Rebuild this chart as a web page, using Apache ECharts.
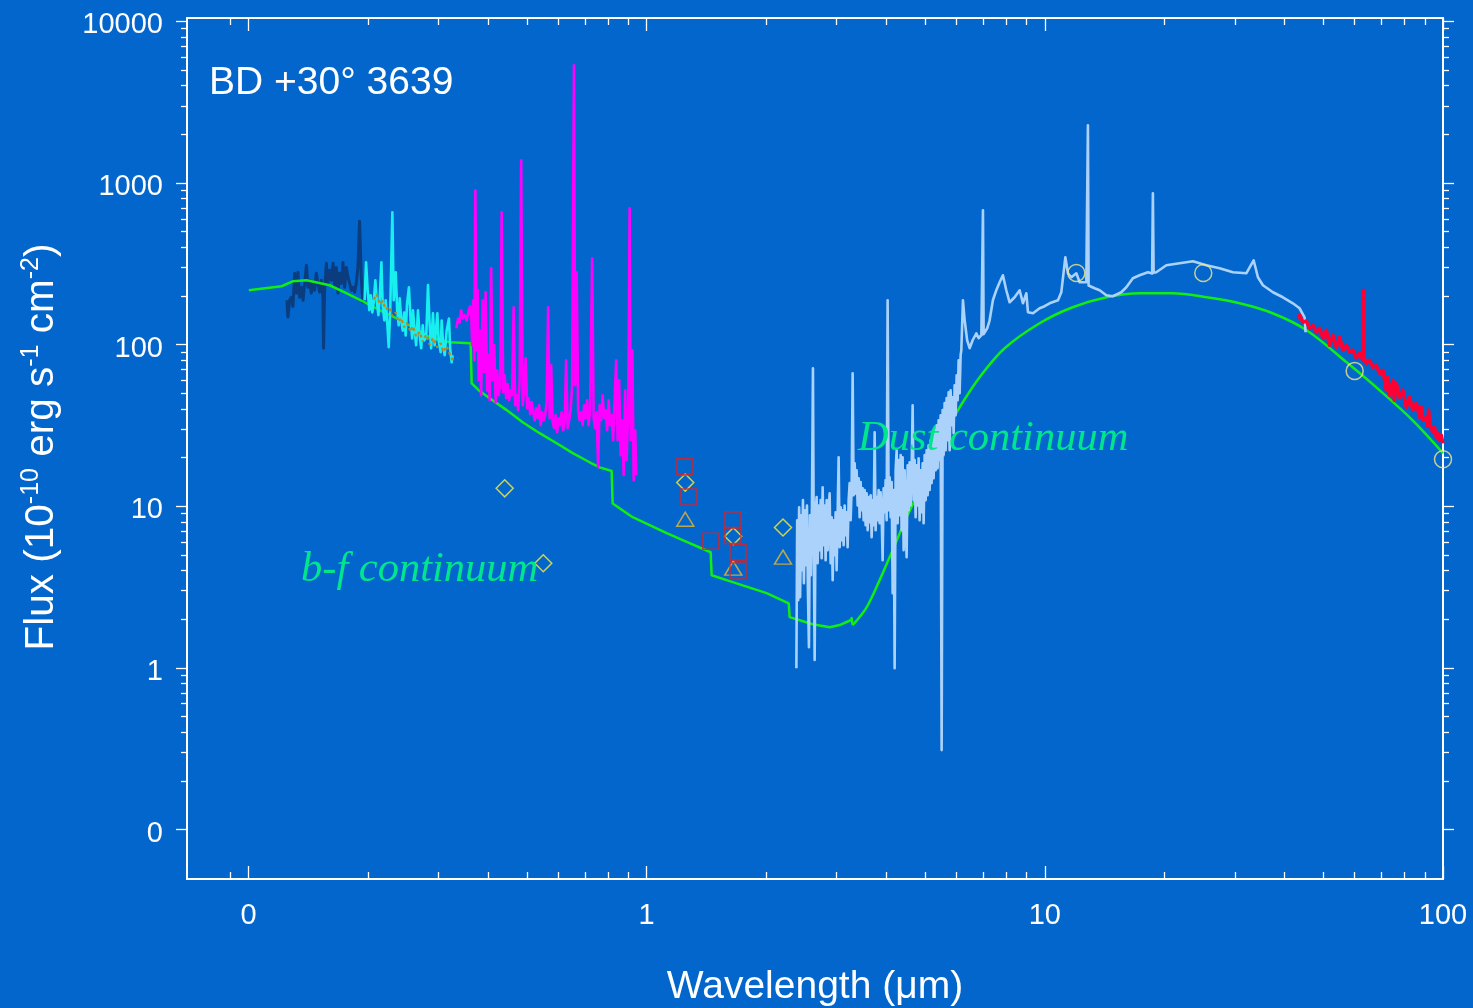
<!DOCTYPE html>
<html>
<head>
<meta charset="utf-8">
<title>BD +30° 3639 spectral energy distribution</title>
<script src="https://cdn.jsdelivr.net/npm/echarts@6.0.0/dist/echarts.min.js"></script>
<style>
html, body { margin: 0; padding: 0; background: #0366cc; }
#chart { width: 1473px; height: 1008px; }
</style>
</head>
<body>
<div id="chart"></div>
<script>
// All pairs are [wavelength (micron), flux (1e-10 erg s^-1 cm^-2)].

// IUE short-wavelength spectrum
const iueShort = [
  [0.1249,188],[0.1256,148],[0.1269,188],[0.1281,196],[0.1293,172],[0.1306,276],[0.1319,208],[0.1331,280],
  [0.1344,196],[0.1358,226],[0.1371,188],[0.1384,239],[0.1398,309],[0.1411,226],[0.1424,250],[0.1438,208],
  [0.1452,243],[0.1466,217],[0.1480,276],[0.1494,239],[0.1509,211],[0.1524,250],[0.1538,196],[0.1544,94.8],
  [0.1553,217],[0.1569,318],[0.1583,239],[0.1600,288],[0.1615,250],[0.1631,318],[0.1647,226],[0.1662,300],
  [0.1678,208],[0.1694,276],[0.1711,239],[0.1727,322],[0.1744,226],[0.1761,300],[0.1778,260],[0.1795,239],
  [0.1812,217],[0.1829,226],[0.1847,211],[0.1865,239],[0.1883,300],[0.1901,579],[0.1920,260],[0.1938,180]
];

// IUE long-wavelength spectrum
const iueLong = [
  [0.1957,188],[0.1974,323],[0.1992,217],[0.2012,163],[0.2027,202],[0.2047,158],[0.2063,183],[0.2083,250],
  [0.2099,188],[0.2120,152],[0.2136,193],[0.2157,323],[0.2173,175],[0.2194,141],[0.2211,188],[0.2233,131.6],
  [0.2250,96.2],[0.2270,163],[0.2298,657],[0.2316,188],[0.2343,280],[0.2363,163],[0.2384,131.6],[0.2398,193],
  [0.2419,141],[0.2440,122],[0.2460,158],[0.2482,114],[0.2500,175],[0.2529,226],[0.2554,141],[0.2577,109],
  [0.2589,163],[0.2614,122],[0.2637,99],[0.2665,163],[0.2691,114],[0.2715,94.8],[0.2739,131.6],[0.2762,106],
  [0.2795,111],[0.2824,233],[0.2851,131.6],[0.2876,94.8],[0.2906,156],[0.2935,99],[0.2981,156],[0.3003,106],
  [0.3039,89.6],[0.3056,141],[0.3083,99],[0.3110,85.9],[0.3146,122],[0.3188,145],[0.3210,94.8],[0.3238,77.7],
  [0.3257,85.9]
];

// second long-wavelength exposure, drawn dotted over the first
const iueLongB = [
  [0.2063,190],[0.2099,205],[0.2136,178],[0.2173,186],[0.2211,165],[0.2250,172],[0.2298,150],[0.2343,158],
  [0.2384,138],[0.2419,146],[0.2460,128],[0.2500,136],[0.2554,120],[0.2589,130],[0.2637,112],[0.2691,120],
  [0.2739,104],[0.2795,115],[0.2851,100],[0.2906,110],[0.2981,96],[0.3039,102],[0.3083,90],[0.3146,98],
  [0.3210,86],[0.3257,80]
];

// optical spectrum
const optical = [
  [0.3327,126],[0.3362,145],[0.3391,137],[0.3421,163],[0.3450,145],[0.3490,152],[0.3532,141],[0.3573,163],
  [0.3604,172.5],[0.3629,145],[0.3646,99],[0.3667,188],[0.3688,80],[0.3714,899],[0.3742,92.2],[0.3764,217],
  [0.3785,60.1],[0.3818,122],[0.3840,48.6],[0.3873,188],[0.3907,67.4],[0.3941,211],[0.3976,52.1],[0.3999,85.9],
  [0.4034,45.2],[0.4069,296],[0.4105,60.1],[0.4141,99],[0.4177,44.0],[0.4213,69.3],[0.4250,48.6],[0.4287,56.0],
  [0.4324,657],[0.4362,50.7],[0.4400,64.6],[0.4438,46.6],[0.4476,56.8],[0.4516,45.2],[0.4555,52.1],[0.4594,48.6],
  [0.4634,170],[0.4675,42.1],[0.4715,48.6],[0.4757,39.2],[0.4798,60.1],[0.4840,1380],[0.4882,42.1],[0.4925,52.1],
  [0.4968,82.3],[0.5011,40.4],[0.5055,46.6],[0.5099,37.1],[0.5143,44.0],[0.5188,38.1],[0.5233,34.0],[0.5278,40.4],
  [0.5325,35.0],[0.5370,42.1],[0.5417,31.7],[0.5465,38.1],[0.5512,34.0],[0.5560,36.6],[0.5609,44.0],[0.5657,170],
  [0.5707,35.0],[0.5757,74.5],[0.5806,33.1],[0.5857,30.4],[0.5908,36.6],[0.5959,28.7],[0.6012,35.0],[0.6064,31.7],
  [0.6116,38.1],[0.6170,29.5],[0.6224,33.1],[0.6277,80],[0.6333,30.4],[0.6388,34.0],[0.6443,39.2],[0.6500,56.0],
  [0.6568,5333],[0.6614,56.0],[0.6672,280],[0.6730,39.2],[0.6788,34.0],[0.6846,38.1],[0.6907,31.7],[0.6966,42.1],
  [0.7027,35.0],[0.7088,45.2],[0.7149,31.7],[0.7212,39.2],[0.7296,342],[0.7359,35.0],[0.7423,30.4],[0.7488,38.1],
  [0.7553,17.4],[0.7620,42.1],[0.7685,34.0],[0.7753,48.6],[0.7821,35.0],[0.7889,39.2],[0.7958,29.5],[0.8028,45.2],
  [0.8096,31.7],[0.8167,36.6],[0.8238,25.6],[0.8310,45.2],[0.8383,80],[0.8456,25.6],[0.8530,60.1],[0.8604,20.7],
  [0.8679,34.0],[0.8755,15.6],[0.8831,52.1],[0.8908,19.3],[0.8987,39.2],[0.9064,697],[0.9117,25.6],[0.9206,92.2],
  [0.9277,14.5],[0.9357,29.5],[0.9422,15.6]
];

// ISO short-wavelength spectrometer
const isoSws = [
  [2.377,0.996],[2.388,8.19],[2.402,2.62],[2.415,9.86],[2.429,2.74],[2.443,8.80],[2.457,4.02],[2.469,10.9],
  [2.483,3.34],[2.498,9.45],[2.512,4.32],[2.527,10.1],[2.541,3.02],[2.556,1.34],[2.571,8.80],[2.586,3.74],
  [2.601,10.1],[2.616,71.4],[2.630,4.64],[2.642,1.12],[2.657,9.45],[2.672,11.4],[2.688,4.44],[2.704,10.1],
  [2.719,5.35],[2.735,10.9],[2.751,4.77],[2.767,13.1],[2.783,5.74],[2.799,10.1],[2.815,4.64],[2.832,10.9],
  [2.848,5.35],[2.865,9.45],[2.881,12.0],[2.898,4.44],[2.915,8.55],[2.932,3.49],[2.949,8.19],[2.966,4.98],
  [2.983,9.18],[3.000,4.02],[3.017,8.80],[3.035,20.1],[3.053,5.58],[3.071,9.86],[3.088,6.16],[3.106,9.45],
  [3.124,5.74],[3.142,10.1],[3.161,6.62],[3.179,9.18],[3.197,5.58],[3.216,10.9],[3.235,13.9],[3.253,8.19],
  [3.272,12.6],[3.291,66.4],[3.310,11.7],[3.330,18.4],[3.349,12.0],[3.368,16.7],[3.388,10.1],[3.408,14.9],
  [3.427,8.55],[3.447,14.1],[3.467,9.45],[3.487,12.9],[3.507,8.19],[3.528,12.6],[3.548,7.63],[3.569,12.0],
  [3.590,7.11],[3.610,11.4],[3.631,7.96],[3.652,11.7],[3.673,6.43],[3.695,10.9],[3.716,7.63],[3.738,28.7],
  [3.759,7.11],[3.781,11.4],[3.803,8.19],[3.825,12.6],[3.847,7.85],[3.869,12.2],[3.892,8.80],[3.914,4.64],
  [3.937,12.9],[3.960,9.18],[3.983,14.5],[4.006,8.19],[4.029,188],[4.053,9.45],[4.076,15.1],[4.100,8.55],
  [4.124,14.1],[4.148,2.90],[4.172,12.6],[4.196,0.996],[4.220,16.7],[4.245,22.2],[4.269,7.85],[4.294,19.3],
  [4.319,8.80],[4.344,20.7],[4.369,7.11],[4.394,20.1],[4.420,5.35],[4.446,16.7],[4.471,8.19],[4.497,4.84],
  [4.524,17.9],[4.550,9.45],[4.576,18.7],[4.602,10.1],[4.629,16.7],[4.656,42.1],[4.683,10.9],[4.710,19.3],
  [4.737,8.55],[4.765,17.9],[4.792,10.1],[4.820,19.8],[4.848,8.19],[4.876,16.7],[4.905,9.18],[4.933,18.4],
  [4.962,7.85],[4.991,20.7],[5.020,10.9],[5.049,22.2],[5.078,11.7],[5.107,23.8],[5.137,12.6],[5.167,25.6],
  [5.197,13.9],[5.227,28.3],[5.257,14.9],[5.288,29.5],[5.319,16.7],[5.349,31.7],[5.380,17.2],[5.411,34.0],
  [5.443,19.3],[5.474,36.5],[5.506,0.310],[5.538,39.3],[5.570,20.7],[5.602,43.4],[5.635,22.2],[5.667,46.6],
  [5.700,25.6],[5.733,50.7],[5.767,22.2],[5.800,52.2],[5.834,31.7],[5.867,47.2],[5.901,28.3],[5.936,56.0],
  [5.970,36.5],[6.005,64.6],[6.040,45.2],[6.075,80.0],[6.110,50.0],[6.145,85.9],[6.170,92.2],[6.228,188],
  [6.290,141.3],[6.381,106.3],[6.474,94.9],[6.587,106.3],[6.730,117.4],[6.820,109.4],[6.928,114.2],[6.960,114],
  [6.992,677],[7.020,116],[7.062,117.4],[7.166,126.1],[7.267,141.3],[7.406,188],[7.553,216.7],[7.700,242.8],
  [7.848,268.3],[8.002,216.7],[8.158,182.6],[8.397,196.1],[8.644,216.7],[8.811,180.0],[8.987,207.6],[9.071,158.4],
  [9.339,156.2],[9.704,167.7],[9.988,172.6],[10.28,180.0],[10.79,187.9],[11.00,210.6],[11.26,346.7],[11.43,276.0],
  [11.66,260.8],[12.00,276.0],[12.23,242.8],[12.71,242.8],[12.78,245],[12.83,2271],[12.88,232],[12.96,226.1],
  [13.34,222.9],[13.73,216.7],[14.27,201.8],[14.82,198.9],[15.56,210.6],[16.02,226.1],[16.64,257.0],[17.30,268.3],
  [18.15,280.0],[18.60,275],[18.68,862],[18.76,278],[19.05,280.0],[20.19,309.3],[21.80,318.2],[23.55,327.4],
  [25.44,309.3],[27.48,296.4],[29.67,280.0],[32.06,276.0],[33.45,332.1],[34.29,260.8],[35.30,232.7],[37.40,210.6],
  [39.62,196.1],[41.97,180.0],[43.63,167.7],[44.91,147.5],[45.17,119.1]
];

// ISO long-wavelength spectrometer
const isoLws = [
  [43.20,145],[43.63,151.8],[44.47,137.3],[45.35,140],[46.24,126.1],[47.13,131.6],[48.07,119.1],[49.00,126.1],
  [49.94,109.4],[50.94,122.6],[51.91,99.0],[52.91,114.2],[53.96,96.2],[55.00,111.0],[56.06,92.2],[57.17,99.0],
  [58.27,89.6],[59.39,92.2],[60.57,82.3],[61.74,88.4],[62.93,80.0],[63.18,216.7],[63.40,82.3],[64.18,76.6],
  [65.41,80.0],[66.67,72.4],[67.99,74],[69.30,66.4],[70.64,69.3],[72.04,52.2],[72.60,62.8],[73.43,48.6],
  [74.84,60.1],[75.50,45.2],[76.33,57.6],[77.80,47.2],[79.30,52.2],[80.87,40.9],[82.42,47.2],[84.01,39.3],
  [85.68,43.4],[87.33,35.5],[88.20,40.9],[89.01,34.0],[90.78,35.5],[91.50,31.5],[92.01,39.3],[92.53,32.6],
  [94.31,28.7],[95.20,30.8],[96.18,26.7],[97.10,28.3],[98.05,25.6],[99.00,27.5],[99.94,24.5]
];

// bound-free (nebular) continuum model
const continuumBF = [
  [0.1002,216.7],[0.1211,229.4],[0.1291,246.3],[0.1400,249.8],[0.1599,232.7],[0.1765,207.6],[0.1935,185.3],
  [0.2136,163.0],[0.2356,145.4],[0.2585,127.9],[0.2851,111.0],[0.3200,103.3],[0.3614,101.9],[0.3635,57.6],
  [0.3785,52.2],[0.4034,46.6],[0.4450,39.3],[0.4882,33.1],[0.5385,28.3],[0.5942,24.5],[0.6522,21.3],
  [0.7190,18.7],[0.7620,17.4],[0.8167,16.5],[0.8215,10.4],[0.9222,8.55],[1.1226,6.81],[1.2314,6.16],
  [1.4479,5.19],[1.4563,3.74],[1.6444,3.39],[2.0012,2.90],[2.2735,2.51],[2.2866,2.06],[2.4222,1.97],
  [2.6117,1.86],[2.8811,1.785],[3.0527,1.84],[3.2533,1.97],[3.2722,2.03],[3.2912,1.84]
];

// dust continuum model
const continuumDust = [
  [3.2912,1.84],[3.5685,2.37],[3.8471,3.49],[4.1475,5.35],[4.4972,8.55],[4.8483,12.6],[5.2268,19.3],
  [5.6675,29.5],[6.1100,40.9],[6.8590,62.8],[7.9258,94.9],[9.7038,135.5],[11.743,170.2],[14.294,196.1],
  [17.298,207.6],[20.93,207.6],[25.48,196.1],[30.84,180.0],[37.33,156.2],[45.43,122.6],[57.27,77.7],
  [69.30,52.2],[83.9,34.0],[100,21.3]
];

// broad-band photometry
const photDiamond = [[0.44,12.9],[0.55,4.44],[1.25,14.0],[1.65,6.52],[2.2,7.38]];
const photTriangle = [[1.25,8.31],[1.65,4.14],[2.2,4.84]];
const photSquare = [[1.248,17.5],[1.277,11.4],[1.45,6.07],[1.647,8.23],[1.647,6.59],[1.696,5.19],[1.696,3.97]];
const photIras = [[12,277],[25,277],[60,68.7],[100,19.5]];

// axis ticks and their printed labels
const xTickValues = [0.1, 1, 10, 100];
const xTickLabels = ['0', '1', '10', '100'];
const yTickValues = [0.1, 1, 10, 100, 1000, 10000];
const yTickLabels = ['0', '1', '10', '100', '1000', '10000'];
const xMinorDecades = [0.1, 1, 10];
const yMinorDecades = [0.1, 1, 10, 100, 1000];
const xExtraMinor = [0.09];
const minorSteps = [2, 3, 4, 5, 6, 7, 8, 9];

// axis extents (log10 units)
const X_MIN = -1.1544, X_MAX = 2.0;
const Y_MIN = -1.306, Y_MAX = 4.02;

const lg = Math.log10;
const toLog = arr => arr.map(p => [lg(p[0]), lg(p[1])]);
const minorList = (decades, extra) => {
  const out = extra.map(lg);
  decades.forEach(d => minorSteps.forEach(s => out.push(lg(d * s))));
  return out;
};
const xMajor = xTickValues.map(lg), yMajor = yTickValues.map(lg);
const xMinor = minorList(xMinorDecades, xExtraMinor);
const yMinor = minorList(yMinorDecades, []);
const labelOf = (vals, labels) => v => {
  const i = vals.findIndex(t => Math.abs(t - v) < 1e-6);
  return i >= 0 ? labels[i] : '';
};

const WHITE = '#ffffff';
const FONT = 'Liberation Sans';

function xAxisDef(position, ticks, len, line, label) {
  return {
    type: 'value', min: X_MIN, max: X_MAX, position: position,
    axisLine: { show: line, onZero: false, lineStyle: { color: WHITE, width: 2 } },
    axisTick: { show: true, inside: true, length: len, customValues: ticks, lineStyle: { color: WHITE, width: 1.3 } },
    axisLabel: label ? {
      show: true, customValues: xMajor, formatter: labelOf(xMajor, xTickLabels),
      color: WHITE, fontSize: 29, fontFamily: FONT, margin: 22
    } : { show: false },
    splitLine: { show: false }, minorTick: { show: false }
  };
}
function yAxisDef(position, ticks, len, line, label) {
  return {
    type: 'value', min: Y_MIN, max: Y_MAX, position: position,
    axisLine: { show: line, onZero: false, lineStyle: { color: WHITE, width: 2 } },
    axisTick: { show: true, inside: false, length: len, customValues: ticks, lineStyle: { color: WHITE, width: 1.3 } },
    axisLabel: label ? {
      show: true, customValues: yMajor, formatter: labelOf(yMajor, yTickLabels),
      color: WHITE, fontSize: 29, fontFamily: FONT, margin: 24,
      verticalAlign: 'top', lineHeight: 8
    } : { show: false },
    splitLine: { show: false }, minorTick: { show: false }
  };
}

function lineSeries(name, data, color, width, z, extra) {
  return Object.assign({
    type: 'line', name: name, data: toLog(data), xAxisIndex: 0, yAxisIndex: 0,
    symbol: 'none', showSymbol: false, z: z, silent: true,
    lineStyle: { color: color, width: width, join: 'round' }
  }, extra || {});
}
function markerSeries(name, data, symbol, size, color, width) {
  return {
    type: 'scatter', name: name, data: toLog(data), xAxisIndex: 0, yAxisIndex: 0,
    symbol: symbol, symbolSize: size, z: 8, clip: false, silent: true,
    itemStyle: { color: 'rgba(0,0,0,0)', borderColor: color, borderWidth: width }
  };
}

const chart = echarts.init(document.getElementById('chart'), null, { renderer: 'canvas' });
chart.setOption({
  animation: false,
  backgroundColor: '#0366cc',
  grid: { left: 187, right: 30, top: 18, bottom: 129, containLabel: false, outerBoundsMode: 'none' },
  xAxis: [
    xAxisDef('bottom', xMajor, 13, true, true),
    xAxisDef('bottom', xMinor, 7, false, false),
    xAxisDef('top', xMajor, 13, true, false),
    xAxisDef('top', xMinor, 7, false, false)
  ],
  yAxis: [
    yAxisDef('left', yMajor, 11, true, true),
    yAxisDef('left', yMinor, 6, false, false),
    yAxisDef('right', yMajor, 11, true, false),
    yAxisDef('right', yMinor, 6, false, false)
  ],
  series: [
    lineSeries('IUE SWP', iueShort, '#0b3d7e', 3, 2),
    lineSeries('b-f continuum', continuumBF, '#11ee11', 2.5, 3),
    lineSeries('dust continuum', continuumDust, '#11ee11', 2.5, 3, { smooth: 0.35 }),
    lineSeries('IUE LWR', iueLong, '#18f0f0', 2.6, 4),
    lineSeries('IUE LWP', iueLongB, '#b08a28', 2, 5, { lineStyle: { color: '#b08a28', width: 2.2, type: [3, 3] } }),
    lineSeries('optical', optical, '#ff00ff', 2.6, 4),
    lineSeries('ISO SWS', isoSws, '#aad2fa', 2.6, 4),
    lineSeries('ISO LWS', isoLws, '#ff0033', 3.6, 4),
    markerSeries('UBV / JHK', photDiamond, 'diamond', [17, 17], '#ffee33', 1.5),
    markerSeries('JHK (2)', photTriangle, 'triangle', [17, 14], '#e8b830', 1.5),
    markerSeries('JHK (3)', photSquare, 'rect', [16, 16], '#e02020', 1.6),
    markerSeries('IRAS', photIras, 'circle', 17, '#f4e88a', 1.5)
  ],
  graphic: [
    { type: 'text', x: 209, y: 83, z: 100,
      style: { text: 'BD +30° 3639', fill: WHITE, fontSize: 39, fontFamily: FONT, align: 'left', verticalAlign: 'middle' } },
    { type: 'text', x: 858, y: 439, z: 100,
      style: { text: 'Dust continuum', fill: '#00e68c', fontSize: 42.5, fontFamily: 'Liberation Serif', fontStyle: 'italic', align: 'left', verticalAlign: 'middle' } },
    { type: 'text', x: 301, y: 570, z: 100,
      style: { text: 'b-f continuum', fill: '#00e68c', fontSize: 42.5, fontFamily: 'Liberation Serif', fontStyle: 'italic', align: 'left', verticalAlign: 'middle' } },
    { type: 'text', x: 815, y: 987, z: 100,
      style: { text: 'Wavelength (μm)', fill: WHITE, fontSize: 39, fontFamily: FONT, align: 'center', verticalAlign: 'middle' } },
    { type: 'text', x: 42, y: 447, rotation: Math.PI / 2, z: 100,
      style: {
        text: 'Flux (10{sup|-10} erg s{sup|-1} cm{sup|-2})',
        fill: WHITE, fontSize: 40.5, fontFamily: FONT, lineHeight: 46, align: 'center', verticalAlign: 'middle',
        rich: { sup: { fontSize: 25, lineHeight: 25, fontFamily: FONT, fill: WHITE, verticalAlign: 'top' } }
      } }
  ]
});
</script>
</body>
</html>
